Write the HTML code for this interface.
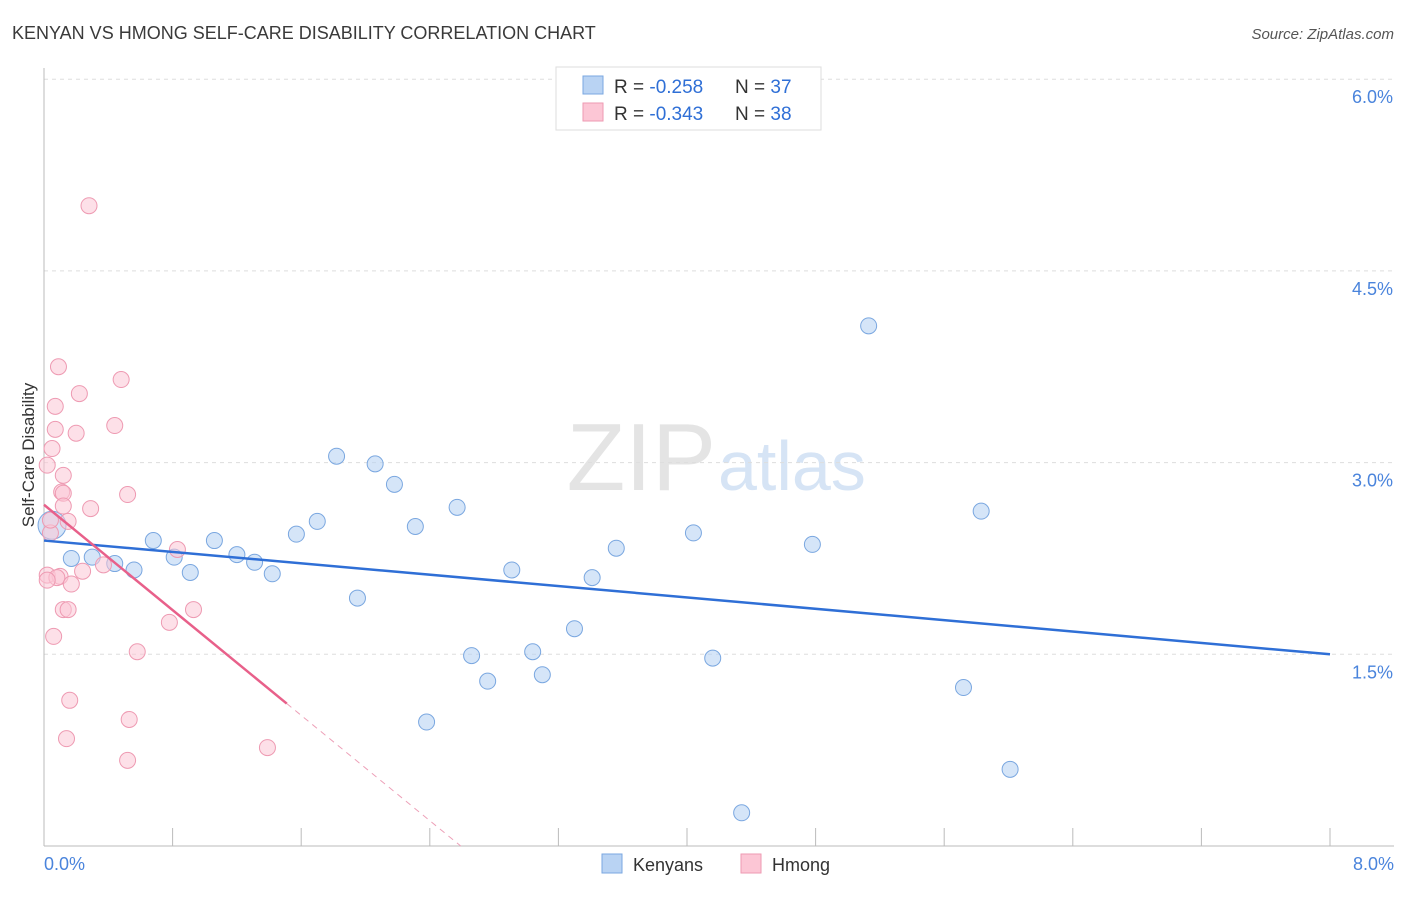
<!DOCTYPE html>
<html><head><meta charset="utf-8"><style>
body{margin:0;background:#fff;font-family:"Liberation Sans",sans-serif;}
svg text{font-family:"Liberation Sans",sans-serif;}
</style></head><body>
<svg id="c" width="1406" height="892">
<text x="12" y="39" font-size="18" fill="#3a3a3a">KENYAN VS HMONG SELF-CARE DISABILITY CORRELATION CHART</text>
<text x="1394" y="39" font-size="15" fill="#555" text-anchor="end" font-style="italic">Source: ZipAtlas.com</text>
<text x="716" y="490" font-size="96" fill="#e4e4e4" text-anchor="end" font-family="Liberation Serif">ZIP</text>
<text x="718" y="490" font-size="70" fill="#d6e4f5">atlas</text>
<g id="grid"></g><g id="axes"></g><g id="pts"></g><g id="trend"></g>
<text transform="translate(34,455) rotate(-90)" font-size="17" fill="#333" text-anchor="middle">Self-Care Disability</text>
<g>
<rect x="556" y="67" width="265" height="63" fill="#fff" stroke="#ddd"/>
<rect x="583" y="76" width="20" height="18" fill="#b9d3f3" stroke="#7aa7e0"/>
<rect x="583" y="103" width="20" height="18" fill="#fcc6d5" stroke="#ee9ab2"/>
<text x="614" y="93" font-size="19" fill="#333">R = <tspan fill="#2f6fd6">-0.258</tspan></text>
<text x="735" y="93" font-size="19" fill="#333">N = <tspan fill="#2f6fd6">37</tspan></text>
<text x="614" y="120" font-size="19" fill="#333">R = <tspan fill="#2f6fd6">-0.343</tspan></text>
<text x="735" y="120" font-size="19" fill="#333">N = <tspan fill="#2f6fd6">38</tspan></text>
</g>
<g><rect x="602" y="854" width="20" height="19" fill="#b9d3f3" stroke="#7aa7e0"/><text x="633" y="871" font-size="18" fill="#333">Kenyans</text></g>
<g><rect x="741" y="854" width="20" height="19" fill="#fcc6d5" stroke="#ee9ab2"/><text x="772" y="871" font-size="18" fill="#333">Hmong</text></g>
</svg>
<script>
const blueX=[0.05,0.17,0.30,0.44,0.56,0.68,0.81,0.91,1.06,1.20,1.31,1.42,1.57,1.70,1.82,1.95,2.06,2.18,2.31,2.38,2.57,2.66,2.76,2.91,3.04,3.10,3.30,3.41,3.56,4.04,4.16,4.34,4.78,5.13,5.72,5.83,6.01];
const blueY=[2.51,2.25,2.26,2.21,2.16,2.39,2.26,2.14,2.39,2.28,2.22,2.13,2.44,2.54,3.05,1.94,2.99,2.83,2.50,0.97,2.65,1.49,1.29,2.16,1.52,1.34,1.70,2.10,2.33,2.45,1.47,0.26,2.36,4.07,1.24,2.62,0.60];
const pinkX=[0.28,0.09,0.48,0.22,0.07,0.44,0.07,0.20,0.05,0.12,0.02,0.11,0.12,0.52,0.29,0.15,0.04,0.83,0.37,0.24,0.02,0.10,0.08,0.02,0.17,0.93,0.12,0.15,0.78,0.06,0.58,0.16,0.53,0.14,1.39,0.52,0.04,0.12];
const pinkY=[5.01,3.75,3.65,3.54,3.44,3.29,3.26,3.23,3.11,2.90,2.98,2.77,2.76,2.75,2.64,2.54,2.45,2.32,2.20,2.15,2.12,2.11,2.10,2.08,2.05,1.85,1.85,1.85,1.75,1.64,1.52,1.14,0.99,0.84,0.77,0.67,2.55,2.66];
const yTicks=[1.5,3.0,4.5,6.0];
const yTickLabels=["1.5%","3.0%","4.5%","6.0%"];
const blueTrend=[2.39,1.50];
const pinkTrend=[2.67,-1.03];
const pinkSolidEnd=1.51;
const ns="http://www.w3.org/2000/svg";
const X=v=>44+v/8*1286, Y=v=>846-v*127.8;
function mk(p,t,a){const e=document.createElementNS(ns,t);for(const k in a)e.setAttribute(k,a[k]);document.getElementById(p).appendChild(e);return e;}
yTicks.forEach((t,i)=>{
 const g=mk('grid','line',{x1:44,x2:1394,y1:Y(t),y2:Y(t),stroke:'#ddd','stroke-dasharray':'4,4'});
 
 
 const l=mk('grid','text',{x:1393,y:Y(t)+24,'font-size':18,fill:'#4a84dc','text-anchor':'end'});l.textContent=yTickLabels[i];
 
 
});
const ax=mk('axes','line',{x1:44,x2:1394,y1:846,y2:846,stroke:'#bbb'});


const ay=mk('axes','line',{x1:44,x2:44,y1:68,y2:846,stroke:'#bbb'});


for(let i=0;i<=10;i++){const t=mk('axes','line',{x1:X(i*0.8),x2:X(i*0.8),y1:828,y2:846,stroke:'#bbb'});
 
 }
const xl0=mk('axes','text',{x:44,y:870,'font-size':18,fill:'#4a84dc'});xl0.textContent='0.0%';


const xl1=mk('axes','text',{x:1394,y:870,'font-size':18,fill:'#4a84dc','text-anchor':'end'});xl1.textContent='8.0%';


blueX.forEach((x,i)=>{const c=mk('pts','circle',{cx:X(x),cy:Y(blueY[i]),r:i==0?14:8,fill:'rgba(185,211,243,0.6)',stroke:'#7aa7e0','stroke-width':1});
 
 });
pinkX.forEach((x,i)=>{const c=mk('pts','circle',{cx:X(x),cy:Y(pinkY[i]),r:8,fill:'rgba(252,198,213,0.55)',stroke:'#ee9ab2','stroke-width':1});
 
 });
const bt=mk('trend','line',{x1:X(0),y1:Y(blueTrend[0]),x2:X(8),y2:Y(blueTrend[1]),stroke:'#2f6fd6','stroke-width':2.5});


const pz=-pinkTrend[0]/pinkTrend[1];
const pt=mk('trend','line',{x1:X(0),y1:Y(pinkTrend[0]),x2:X(pinkSolidEnd),y2:Y(pinkTrend[0]+pinkTrend[1]*pinkSolidEnd),stroke:'#e8608a','stroke-width':2.5});


const pd=mk('trend','line',{x1:X(pinkSolidEnd),y1:Y(pinkTrend[0]+pinkTrend[1]*pinkSolidEnd),x2:X(pz),y2:Y(0),stroke:'#eda0b8','stroke-width':1,'stroke-dasharray':'6,5'});


</script>
</body></html>
